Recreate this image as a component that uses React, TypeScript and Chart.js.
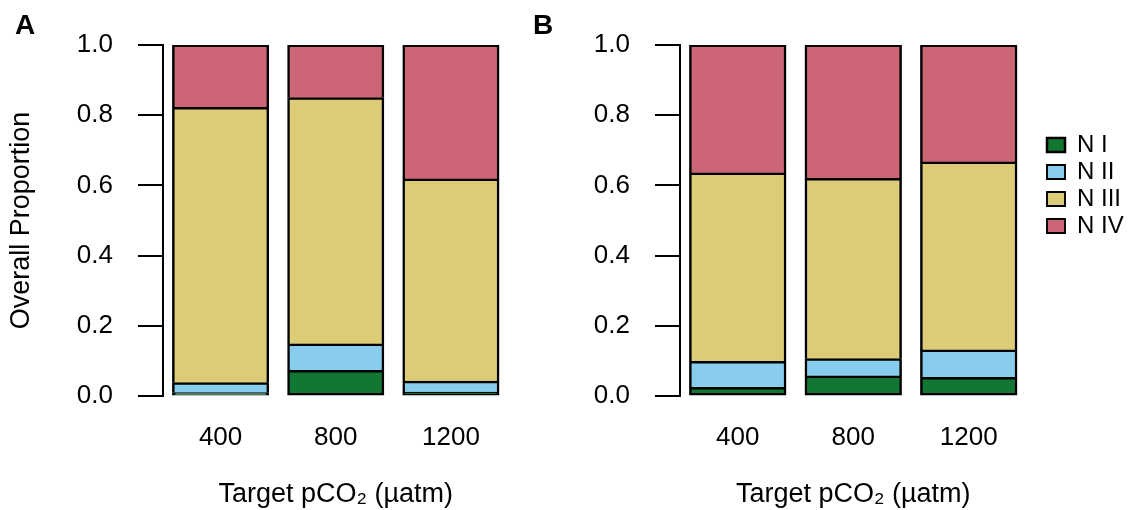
import React, { useEffect, useRef } from "react";
import { Chart, registerables } from "chart.js";

Chart.register(...registerables);

// ---------- data ----------
const categories = ["400", "800", "1200"];
const seriesNames = ["N I", "N II", "N III", "N IV"];
const seriesColors = ["#117733", "#88CCEE", "#DDCC77", "#CC6677"];

const panelA_NI = [0.009, 0.073, 0.011];
const panelA_NII = [0.029, 0.075, 0.031];
const panelA_NIII = [0.784, 0.702, 0.576];
const panelA_NIV = [0.178, 0.15, 0.382];

const panelB_NI = [0.024, 0.057, 0.053];
const panelB_NII = [0.074, 0.049, 0.078];
const panelB_NIII = [0.537, 0.514, 0.536];
const panelB_NIV = [0.365, 0.38, 0.333];

const yTickValues = [0, 0.2, 0.4, 0.6, 0.8, 1.0];
const yAxisTitle = "Overall Proportion";
const xAxisTitle = "Target pCO\u2082 (\u00b5atm)";
const panelLabels = ["A", "B"];

// ---------- styling ----------
const FONT = '"Liberation Sans", Arial, Helvetica, sans-serif';
const INK = "#000000";
const H = 510;

const segmentBorders = [
  { top: 2.5, bottom: 2.5, left: 2.5, right: 2.5 },
  { top: 2.5, bottom: 0, left: 2.5, right: 2.5 },
  { top: 2.5, bottom: 0, left: 2.5, right: 2.5 },
  { top: 2.5, bottom: 0, left: 2.5, right: 2.5 },
];

function buildConfig(
  label: string,
  series: number[][],
  showYTitle: boolean,
  showLegend: boolean,
  yWidth: number,
  padding: { left: number; right: number; top: number; bottom: number }
): any {
  const scales: any = {
    x: {
      stacked: true,
      offset: true,
      grid: { display: false, drawTicks: false },
      border: { display: false },
      ticks: {
        color: INK,
        font: { family: FONT, size: 26, lineHeight: 1.2 },
        padding: 26,
        maxRotation: 0,
        autoSkip: false,
      },
      title: {
        display: true,
        text: xAxisTitle,
        color: INK,
        font: { family: FONT, size: 27, lineHeight: 1 },
        padding: { top: 2, bottom: 0 },
      },
    },
    y: {
      stacked: true,
      min: 0,
      max: 1,
      afterBuildTicks: (s: any) => {
        s.ticks = yTickValues.map((v) => ({ value: v }));
      },
      afterFit: (s: any) => {
        s.width = yWidth;
      },
      grid: {
        display: true,
        drawOnChartArea: false,
        drawTicks: true,
        tickLength: 25,
        color: INK,
        lineWidth: 2,
      },
      border: { display: true, color: INK, width: 2 },
      ticks: {
        color: INK,
        font: { family: FONT, size: 26, lineHeight: 1.2 },
        padding: 25,
        callback: (v: any) => Number(v).toFixed(1),
      },
      title: showYTitle
        ? {
            display: true,
            text: yAxisTitle,
            color: INK,
            font: { family: FONT, size: 27, lineHeight: 1 },
            padding: { top: -6.5, bottom: 0 },
          }
        : { display: false },
    },
  };
  if (showLegend) {
    scales.ySpacer = {
      type: "linear",
      axis: "y",
      position: "right",
      display: true,
      grid: { display: false, drawTicks: false },
      border: { display: false },
      ticks: { display: false },
      afterFit: (s: any) => {
        s.width = 17.5;
      },
    };
  }

  return {
    type: "bar",
    data: {
      labels: categories,
      datasets: series.map((vals, i) => ({
        label: seriesNames[i],
        data: vals,
        backgroundColor: seriesColors[i],
        borderColor: INK,
        borderWidth: segmentBorders[i],
        borderSkipped: false,
        inflateAmount: 0.5,
        categoryPercentage: 0.834,
        barPercentage: 1,
      })),
    },
    options: {
      responsive: false,
      maintainAspectRatio: false,
      animation: false,
      devicePixelRatio: 1,
      layout: { padding },
      plugins: {
        title: {
          display: true,
          text: label,
          align: "start",
          color: INK,
          font: { family: FONT, size: 28, weight: "bold", lineHeight: 1.2 },
          padding: { top: 9.7, bottom: 1.7 },
        },
        legend: showLegend
          ? {
              display: true,
              position: "right",
              align: "start",
              fullSize: false,
              maxWidth: 80,
              title: {
                display: true,
                text: " ",
                font: { family: FONT, size: 12, lineHeight: 1 },
                padding: { top: 73, bottom: 0 },
              },
              labels: {
                color: INK,
                font: { family: FONT, size: 24, lineHeight: 1 },
                boxWidth: 18,
                boxHeight: 14,
                padding: 3,
              },
            }
          : { display: false },
        tooltip: { enabled: false },
      },
      scales,
    },
  };
}

function Panel(props: { config: any; left: number; width: number }) {
  const ref = useRef<HTMLCanvasElement | null>(null);
  useEffect(() => {
    if (!ref.current) return;
    const chart = new Chart(ref.current, props.config);
    return () => chart.destroy();
  }, []);
  return (
    <canvas
      ref={ref}
      width={props.width}
      height={H}
      style={{
        position: "absolute",
        left: props.left,
        top: 0,
        width: props.width,
        height: H,
        display: "block",
      }}
    />
  );
}

export default function App() {
  Chart.defaults.font.family = FONT;
  Chart.defaults.color = INK;
  const configA = buildConfig(
    panelLabels[0],
    [panelA_NI, panelA_NII, panelA_NIII, panelA_NIV],
    true,
    false,
    148,
    { left: 15, right: 11.5, top: 0, bottom: 1.8 }
  );
  const configB = buildConfig(
    panelLabels[1],
    [panelB_NI, panelB_NII, panelB_NIII, panelB_NIV],
    false,
    true,
    147,
    { left: 13, right: 22, top: 0, bottom: 1.8 }
  );
  return (
    <div
      style={{
        position: "fixed",
        left: 0,
        top: 0,
        width: 1146,
        height: H,
        background: "#ffffff",
        overflow: "hidden",
      }}
    >
      <Panel config={configA} left={0} width={520} />
      <Panel config={configB} left={520} width={626} />
    </div>
  );
}
